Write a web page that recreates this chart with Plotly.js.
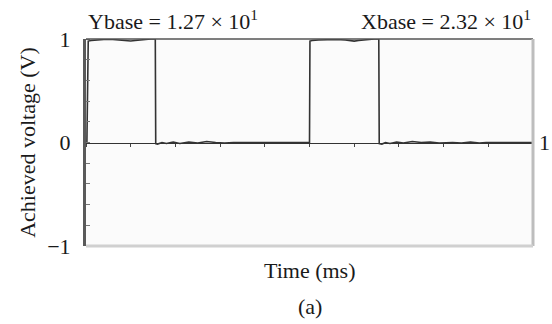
<!DOCTYPE html>
<html>
<head>
<meta charset="utf-8">
<script src="https://cdn.plot.ly/plotly-3.0.1.min.js"></script>
<style>html,body{margin:0;padding:0;background:#fff;}#chart{width:552px;height:324px;}</style>
</head>
<body>
<div id="chart"></div>
<script>
// Time in axis units (10 divisions across the frame), achieved voltage in V
var time = [0.02, 0.05, 0.12, 0.25, 0.4, 0.6, 0.8, 0.9, 1.0, 1.1, 1.2, 1.3, 1.45, 1.55, 1.56, 1.6, 1.7, 1.8, 1.95, 2.1, 2.3, 2.5, 2.7, 2.9, 3.1, 3.3, 3.6, 4.0, 4.5, 5.0, 5.01, 5.06, 5.2, 5.4, 5.6, 5.8, 5.9, 6.0, 6.1, 6.2, 6.3, 6.45, 6.55, 6.56, 6.62, 6.7, 6.8, 6.95, 7.1, 7.3, 7.5, 7.7, 7.9, 8.05, 8.2, 8.4, 8.6, 8.8, 8.95, 9.3, 9.7, 10.0];
var voltage = [0.0, 0.98, 0.985, 0.99, 0.995, 0.995, 0.99, 0.985, 0.98, 0.985, 0.99, 0.995, 1.0, 1.0, -0.01, -0.015, 0.0, -0.01, 0.005, -0.01, 0.005, -0.005, 0.01, 0.0, -0.005, 0.0, 0.0, 0.0, 0.0, 0.0, 0.98, 0.985, 0.99, 0.995, 0.995, 0.99, 0.985, 0.98, 0.985, 0.99, 0.995, 1.0, 1.0, -0.01, -0.015, 0.0, -0.01, 0.005, -0.005, 0.01, 0.0, 0.005, -0.005, 0.0, 0.0, -0.005, 0.005, -0.005, 0.0, 0.0, 0.0, 0.0];

var yTickVals = [-1, 0, 1];
var yTickText = ['\u22121', '0', '1'];
var yLabel = 'Achieved voltage (V)';
var xLabel = 'Time (ms)';
var yBaseText = 'Ybase = 1.27 \u00d7 10<sup>1</sup>';
var xBaseText = 'Xbase = 2.32 \u00d7 10<sup>1</sup>';
var rightLabel = '1';
var panelLabel = '(a)';

var serif = 'Liberation Serif, Times New Roman, serif';
var txt = {family: serif, size: 22, color: '#1a1a1a'};

var traces = [{
  x: time, y: voltage, type: 'scatter', mode: 'lines',
  line: {color: '#333333', width: 1.6, shape: 'linear'},
  hoverinfo: 'skip', showlegend: false
}];

var layout = {
  width: 552, height: 324,
  margin: {l: 86, r: 19, t: 39, b: 78},
  paper_bgcolor: '#ffffff',
  plot_bgcolor: '#fbfbfb',
  showlegend: false,
  font: txt,
  xaxis: {
    range: [0, 10], anchor: 'free', position: 0.5,
    showgrid: false, zeroline: false,
    showline: true, linecolor: '#333', linewidth: 1,
    ticks: 'outside', ticklen: 3, tickwidth: 1, tickcolor: '#444',
    tick0: 0, dtick: 1, showticklabels: false, fixedrange: true
  },
  xaxis2: {
    range: [0, 10], overlaying: 'x', matches: 'x', anchor: 'free', position: 0.5,
    showgrid: false, zeroline: false, showline: false,
    ticks: 'inside', ticklen: 3, tickwidth: 1, tickcolor: '#444',
    tick0: 0, dtick: 1, showticklabels: false
  },
  yaxis: {
    range: [-1, 1], showgrid: false, zeroline: false,
    showline: true, linecolor: '#5a5a5a', linewidth: 3,
    tickvals: yTickVals, ticktext: yTickText, ticks: '',
    tickfont: txt, ticklabelstandoff: 8,
    minor: {dtick: 0.2, ticks: 'inside', ticklen: 4, tickcolor: '#777', tickwidth: 1, showgrid: false},
    title: {text: yLabel, font: txt, standoff: 6}
  },
  shapes: [
    {type: 'line', xref: 'paper', yref: 'paper', x0: 0, x1: 1, y0: 1, y1: 1, line: {color: '#555', width: 1.5}},
    {type: 'line', xref: 'paper', yref: 'paper', x0: 1, x1: 1, y0: 0, y1: 1, line: {color: '#bdbdbd', width: 3}},
    {type: 'line', xref: 'paper', yref: 'paper', x0: 0, x1: 1, y0: 0, y1: 0, line: {color: '#d0d0d0', width: 3}}
  ],
  annotations: [
    {text: yBaseText, xref: 'paper', yref: 'paper', x: 0, y: 1, xanchor: 'left', yanchor: 'bottom', yshift: 3, showarrow: false, font: txt},
    {text: xBaseText, xref: 'paper', yref: 'paper', x: 1, y: 1, xanchor: 'right', yanchor: 'bottom', yshift: 3, showarrow: false, font: txt},
    {text: rightLabel, xref: 'paper', yref: 'y', x: 1, y: 0, xanchor: 'left', yanchor: 'middle', xshift: 4, showarrow: false, font: txt},
    {text: xLabel, xref: 'paper', yref: 'paper', x: 0.5, y: 0, xanchor: 'center', yanchor: 'top', yshift: -10, showarrow: false, font: txt},
    {text: panelLabel, xref: 'paper', yref: 'paper', x: 0.5, y: 0, xanchor: 'center', yanchor: 'top', yshift: -46, showarrow: false, font: txt}
  ]
};

Plotly.newPlot('chart', traces, layout, {staticPlot: true, displayModeBar: false});
</script>
</body>
</html>
